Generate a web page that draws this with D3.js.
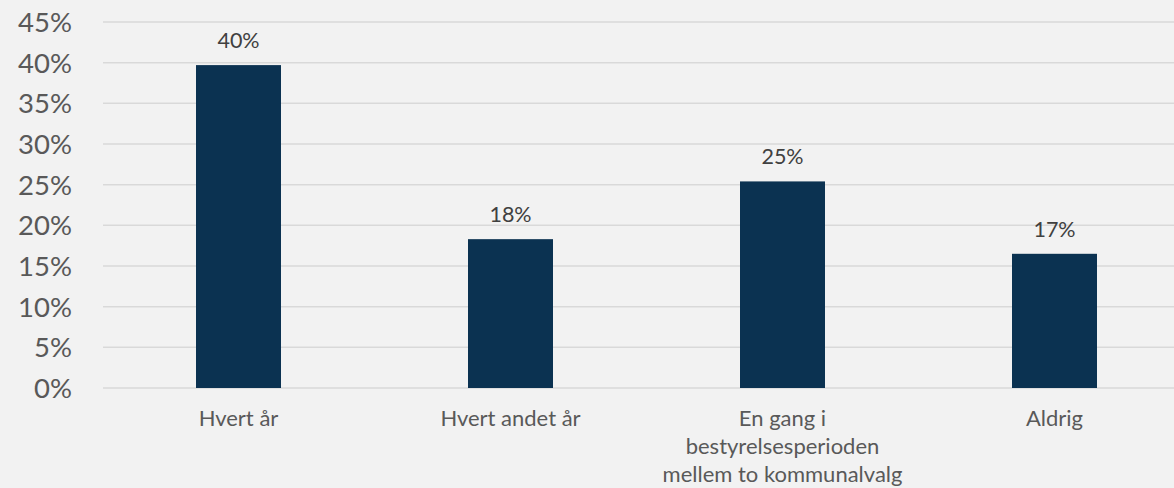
<!DOCTYPE html>
<html><head><meta charset="utf-8">
<script src="https://cdn.jsdelivr.net/npm/d3@7"></script>
<style>html,body{margin:0;padding:0;background:#f2f2f2;overflow:hidden}</style>
</head><body><svg id="c" width="1174" height="488"></svg>
<script>
const categories = [["Hvert år"],["Hvert andet år"],["En gang i","bestyrelsesperioden","mellem to kommunalvalg"],["Aldrig"]];
const values = [39.7, 18.3, 25.4, 16.5];
const labels = ["40%","18%","25%","17%"];
const yTicks = [0,5,10,15,20,25,30,35,40,45];

const svg = d3.select("#c");
svg.append("rect").attr("width",1174).attr("height",488).attr("fill","#f2f2f2");
const x = d3.scaleBand().domain(d3.range(categories.length)).range([102.5,1190.5]).paddingInner(0.6875).paddingOuter(0.34375);
const y = d3.scaleLinear().domain([0,45]).range([388,22]);

svg.append("g").selectAll("line").data(yTicks).join("line")
  .attr("x1",103).attr("x2",1174).attr("y1",d=>y(d)).attr("y2",d=>y(d))
  .attr("stroke","#d9d9d9").attr("stroke-width",1.5);

const font = "Lato, sans-serif";
svg.append("g").selectAll("text").data(yTicks).join("text")
  .attr("x",72).attr("y",d=>y(d)).attr("dy","0.36em").attr("text-anchor","end")
  .attr("font-family",font).attr("font-size",27.5).attr("fill","#595959")
  .text(d=>d+"%");

svg.append("g").selectAll("rect").data(values).join("rect")
  .attr("x",(d,i)=>x(i)).attr("width",x.bandwidth())
  .attr("y",d=>y(d)).attr("height",d=>388-y(d)).attr("fill","#0b3251");

svg.append("g").selectAll("text").data(values).join("text")
  .attr("x",(d,i)=>x(i)+x.bandwidth()/2).attr("y",d=>y(d)-17).attr("text-anchor","middle")
  .attr("font-family",font).attr("font-size",21.5).attr("fill","#404040")
  .text((d,i)=>labels[i]);

const cg = svg.append("g").selectAll("text").data(categories).join("text")
  .attr("text-anchor","middle").attr("font-family",font).attr("font-size",22).attr("fill","#595959");
cg.each(function(lines,i){
  d3.select(this).selectAll("tspan").data(lines).join("tspan")
    .attr("x",x(i)+x.bandwidth()/2).attr("y",(l,j)=>425.5+j*28).text(l=>l);
});
</script></body></html>
